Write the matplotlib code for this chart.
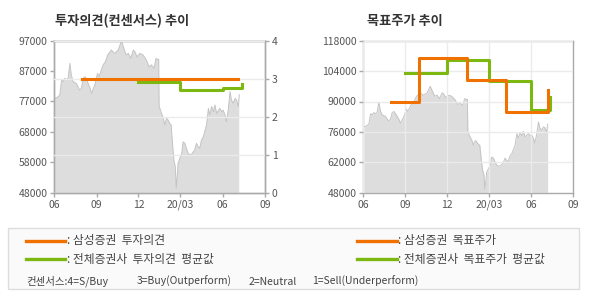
import numpy as np
import pandas as pd
import matplotlib
matplotlib.use("Agg")
import matplotlib.pyplot as plt
from matplotlib.lines import Line2D
from matplotlib.patches import Rectangle

plt.rcParams['font.family'] = ['Noto Sans CJK KR', 'DejaVu Sans']

# 주가 (일부 날짜만 읽음)
price_dates = [
    '2019-06-03', '2019-06-10', '2019-06-13', '2019-06-17', '2019-06-20', '2019-06-24',
    '2019-06-27', '2019-07-01', '2019-07-05', '2019-07-08', '2019-07-12', '2019-07-19',
    '2019-07-26', '2019-07-30', '2019-08-03', '2019-08-07', '2019-08-12', '2019-08-18',
    '2019-08-21', '2019-08-25', '2019-08-28', '2019-09-03', '2019-09-06', '2019-09-10',
    '2019-09-15', '2019-09-20', '2019-09-25', '2019-10-03', '2019-10-10', '2019-10-18',
    '2019-10-25', '2019-10-29', '2019-11-04', '2019-11-09', '2019-11-14', '2019-11-20',
    '2019-11-23', '2019-11-28', '2019-12-04', '2019-12-11', '2019-12-18', '2019-12-24',
    '2019-12-29', '2020-01-04', '2020-01-08', '2020-01-13', '2020-01-14', '2020-01-15',
    '2020-01-20', '2020-01-24', '2020-01-27', '2020-01-31', '2020-02-03', '2020-02-07',
    '2020-02-10', '2020-02-13', '2020-02-16', '2020-02-19', '2020-02-21', '2020-02-24',
    '2020-02-25', '2020-02-29', '2020-03-04', '2020-03-07', '2020-03-11', '2020-03-14',
    '2020-03-18', '2020-03-23', '2020-03-27', '2020-04-01', '2020-04-05', '2020-04-09',
    '2020-04-12', '2020-04-16', '2020-04-20', '2020-04-23', '2020-04-27', '2020-05-01',
    '2020-05-04', '2020-05-08', '2020-05-12', '2020-05-15', '2020-05-19', '2020-05-23',
    '2020-05-26', '2020-05-30', '2020-06-02', '2020-06-06', '2020-06-09', '2020-06-13',
    '2020-06-17', '2020-06-20', '2020-06-24', '2020-06-28', '2020-07-01', '2020-07-05',
    '2020-07-07',
]
price_values = [
    78400, 79000, 79600, 84400, 83800, 84900,
    84400, 84900, 89700, 85900, 83800, 83200,
    81100, 81600, 84900, 85400, 83800, 81600,
    80000, 81600, 82700, 86500, 85400, 87000,
    89200, 90200, 92400, 94000, 92900, 94000,
    97000, 95100, 92400, 92900, 91300, 94000,
    93500, 91800, 92900, 92400, 90800, 88600,
    89200, 88100, 91300, 90800, 91000, 75900,
    73600, 72000, 69900, 72000, 71500, 70300,
    69900, 63900, 58500, 56400, 49500, 55000,
    57400, 59100, 60700, 64400, 63900, 62300,
    60700, 60100, 60700, 61700, 63900, 62800,
    62300, 65000, 66000, 67700, 69900, 75200,
    73100, 75800, 74100, 76300, 73600, 74600,
    75200, 74100, 74600, 73100, 70900, 74600,
    80600, 77900, 76800, 78400, 77900, 75800,
    79600,
]

# 투자의견
opinion_ss_dates = ['2019-08-01', '2020-07-05']
opinion_ss_values = [3, 3]
opinion_avg_dates = ['2019-12-01', '2020-03-01', '2020-06-01', '2020-07-13']
opinion_avg_values = [2.92, 2.71, 2.75, 2.87]

# 목표주가
target_ss_dates = ['2019-08-01', '2019-10-01', '2020-01-14', '2020-04-07', '2020-07-07']
target_ss_values = [90000, 110000, 100000, 85000, 95500]
target_avg_dates = ['2019-09-01', '2019-12-01', '2020-03-01', '2020-06-01', '2020-07-13']
target_avg_values = [103000, 109000, 99500, 86000, 92000]

x_tick_dates = ['2019-06-01', '2019-09-01', '2019-12-01', '2020-03-01', '2020-06-01', '2020-09-01']
x_tick_labels = ['06', '09', '12', '20/03', '06', '09']
left_yticks = [48000, 57800, 67600, 77400, 87200, 97000]
left_ylabels = ['48000', '58000', '68000', '77000', '87000', '97000']
opinion_ticks = [0, 1, 2, 3, 4]
right_yticks = [48000, 62000, 76000, 90000, 104000, 118000]

titles = ['투자의견(컨센서스) 추이', '목표주가 추이']
legend_left = [': 삼성증권  투자의견', ': 전체증권사  투자의견  평균값']
legend_right = [': 삼성증권  목표주가', ': 전체증권사  목표주가  평균값']
consensus_text = ['컨센서스:4=S/Buy', '3=Buy(Outperform)', '2=Neutral', '1=Sell(Underperform)']

ORANGE = '#f07000'
GREEN = '#7cb810'
SPINE = '#aaaaaa'
GRID = '#ebebeb'
TXT = '#555555'

W, H = 590, 300
fig = plt.figure(figsize=(5.9, 3.0), dpi=100)

pdates = pd.to_datetime(price_dates)
xt = pd.to_datetime(x_tick_dates)


def style(ax):
    for s in ax.spines.values():
        s.set_color(SPINE)
        s.set_linewidth(1)
    ax.tick_params(colors=SPINE, labelcolor=TXT, labelsize=7.5, length=3, width=1, pad=2)
    ax.set_xlim(xt[0], xt[-1])
    ax.set_xticks(xt)
    ax.set_xticklabels(x_tick_labels)


def box(l, r):
    return [l / W, 1 - 192.7 / H, (r - l) / W, (192.7 - 40.7) / H]


# 왼쪽: 투자의견
ax1 = fig.add_axes(box(54.3, 265))
ax1.fill_between(pdates, price_values, 0, color='#dddddd', lw=0, zorder=1)
ax1.plot(pdates, price_values, color='#c4c4c4', lw=0.7, zorder=2)
ax1.set_ylim(48000, 97000)
ax1.set_yticks(left_yticks)
ax1.set_yticklabels(left_ylabels)
style(ax1)

ax2 = ax1.twinx()
ax2.set_ylim(0, 4)
ax2.set_yticks(opinion_ticks)
style(ax2)
ax2.grid(True, color=GRID, lw=1)
ax2.set_axisbelow(False)
ax2.plot(pd.to_datetime(opinion_avg_dates), opinion_avg_values, drawstyle='steps-post',
         color=GREEN, lw=2.2, zorder=3)
ax2.plot(pd.to_datetime(opinion_ss_dates), opinion_ss_values, drawstyle='steps-post',
         color=ORANGE, lw=2.2, zorder=4)

# 오른쪽: 목표주가
ax3 = fig.add_axes(box(363.3, 573.3))
ax3.fill_between(pdates, price_values, 0, color='#dddddd', lw=0, zorder=1)
ax3.plot(pdates, price_values, color='#c4c4c4', lw=0.7, zorder=2)
ax3.set_ylim(48000, 118000)
ax3.set_yticks(right_yticks)
style(ax3)
ax3.grid(True, color=GRID, lw=1)
ax3.set_axisbelow(False)
ax3.plot(pd.to_datetime(target_avg_dates), target_avg_values, drawstyle='steps-post',
         color=GREEN, lw=2.2, zorder=3)
ax3.plot(pd.to_datetime(target_ss_dates), target_ss_values, drawstyle='steps-post',
         color=ORANGE, lw=2.2, zorder=4)

# 제목
fig.text(55 / W, 1 - 20.5 / H, titles[0], fontsize=9.5, fontweight='bold', color='#333333', va='center')
fig.text(367 / W, 1 - 20.5 / H, titles[1], fontsize=9.5, fontweight='bold', color='#333333', va='center')

# 범례 박스
fig.patches.append(Rectangle((8 / W, 1 - 289 / H), 571 / W, 61 / H, transform=fig.transFigure,
                             facecolor='#fafafa', edgecolor='#dddddd', lw=1))
rows = [240.7, 259.3]
cols = [(26, 65, 67), (357, 397, 398)]
for (x0, x1, xt0), labels in zip(cols, [legend_left, legend_right]):
    for y, c, lab in zip(rows, [ORANGE, GREEN], labels):
        fig.lines.append(Line2D([x0 / W, x1 / W], [1 - y / H] * 2, transform=fig.transFigure,
                                color=c, lw=2.4))
        fig.text(xt0 / W, 1 - y / H, lab, fontsize=8.5, color='#444444', va='center')

for x, s in zip([26, 137, 249, 312], consensus_text):
    fig.text(x / W, 1 - 281.7 / H, s, fontsize=7.5, color='#444444', va='center')

fig.savefig('out.png', dpi=100)
